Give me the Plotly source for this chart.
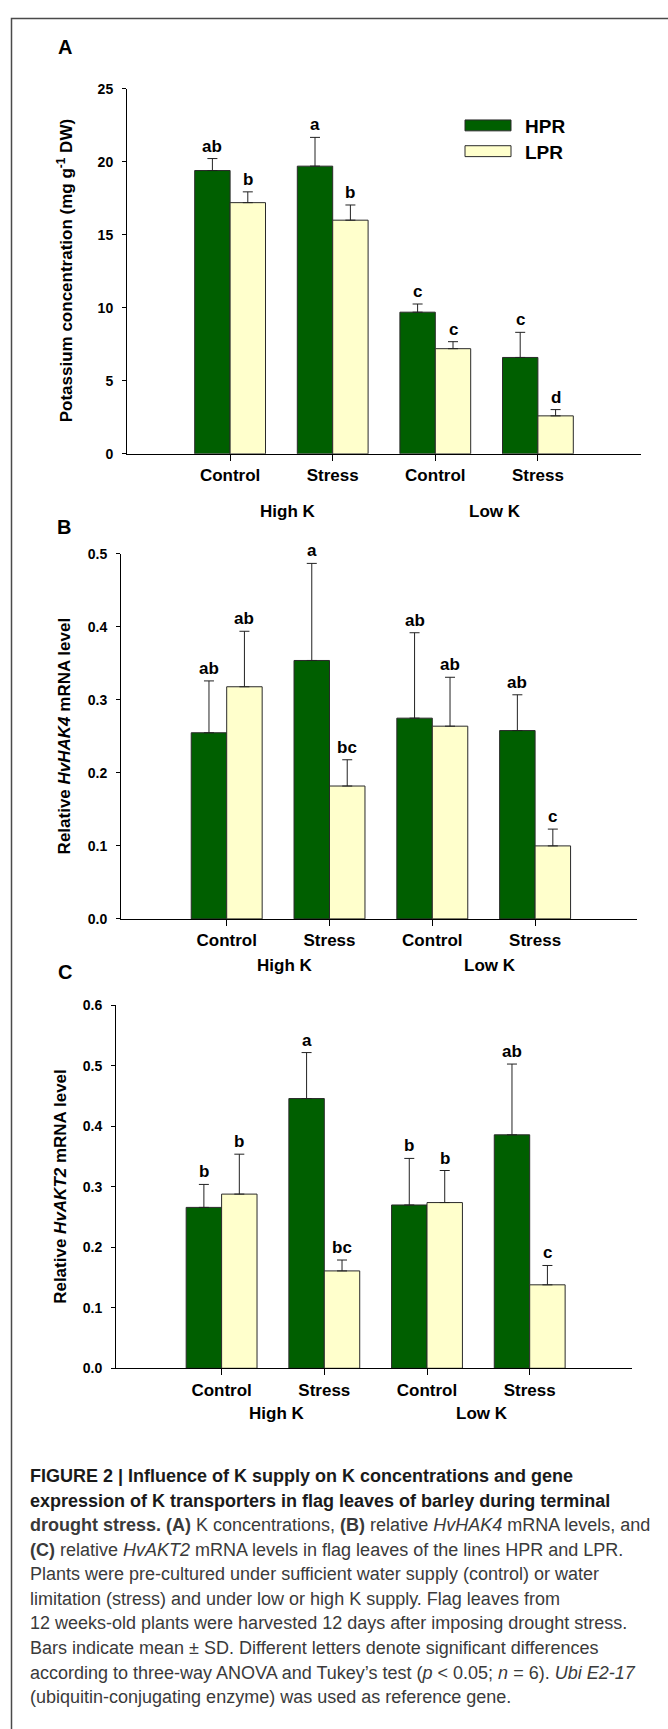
import plotly.graph_objects as go

# ---------------- data ----------------
categories = ["Control", "Stress", "Control", "Stress"]
k_groups = ["High K", "Low K"]
series_names = ["HPR", "LPR"]

# Panel A: potassium concentration (mg g-1 DW)
A_hpr = [19.4, 19.7, 9.7, 6.6]
A_hpr_sd = [0.82, 1.97, 0.56, 1.72]
A_lpr = [17.2, 16.0, 7.2, 2.6]
A_lpr_sd = [0.74, 1.04, 0.48, 0.43]
A_hpr_letters = ["ab", "a", "c", "c"]
A_lpr_letters = ["b", "b", "c", "d"]

# Panel B: relative HvHAK4 mRNA level
B_hpr = [0.255, 0.354, 0.275, 0.258]
B_hpr_sd = [0.071, 0.133, 0.117, 0.049]
B_lpr = [0.318, 0.182, 0.264, 0.100]
B_lpr_sd = [0.076, 0.036, 0.067, 0.023]
B_hpr_letters = ["ab", "a", "ab", "ab"]
B_lpr_letters = ["ab", "bc", "ab", "c"]

# Panel C: relative HvAKT2 mRNA level
C_hpr = [0.266, 0.446, 0.270, 0.386]
C_hpr_sd = [0.038, 0.076, 0.077, 0.117]
C_lpr = [0.288, 0.161, 0.274, 0.138]
C_lpr_sd = [0.066, 0.018, 0.053, 0.032]
C_hpr_letters = ["b", "a", "b", "ab"]
C_lpr_letters = ["b", "bc", "b", "c"]

y_titles = [
    "Potassium concentration (mg g<sup>-1</sup> DW)",
    "Relative <i>HvHAK4</i> mRNA level",
    "Relative <i>HvAKT2</i> mRNA level",
]
panel_letters = ["A", "B", "C"]

caption_lines = [
    "<b>FIGURE 2 | Influence of K supply on K concentrations and gene</b>",
    "<b>expression of K transporters in flag leaves of barley during terminal</b>",
    "<b>drought stress. (A)</b> K concentrations, <b>(B)</b> relative <i>HvHAK4</i> mRNA levels, and",
    "<b>(C)</b> relative <i>HvAKT2</i> mRNA levels in flag leaves of the lines HPR and LPR.",
    "Plants were pre-cultured under sufficient water supply (control) or water",
    "limitation (stress) and under low or high K supply. Flag leaves from",
    "12 weeks-old plants were harvested 12 days after imposing drought stress.",
    "Bars indicate mean \u00b1 SD. Different letters denote significant differences",
    "according to three-way ANOVA and Tukey\u2019s test (<i>p</i> &lt; 0.05; <i>n</i> = 6). <i>Ubi E2-17</i>",
    "(ubiquitin-conjugating enzyme) was used as reference gene.",
]

# ---------------- styling / layout ----------------
W, H = 668, 1729
FONT = "Liberation Sans, Arial, Helvetica, sans-serif"
GREEN = "#005f00"
YELLOW = "#ffffcc"
OUTLINE = "#2a2a2a"


def px(x):
    return x / W


def py(y):
    return 1 - y / H


panels = [
    dict(data=(A_hpr, A_hpr_sd, A_lpr, A_lpr_sd, A_hpr_letters, A_lpr_letters),
         xdom=(127, 641), ydom=(81.5, 450), c0=230.1, step=102.6,
         yr=[0, 25], dtick=5, fmt="d", label_xy=(65, 39.5), ytitle_x=65,
         kgrp_y=507.7, kgrp_x=(0.56, 2.58)),
    dict(data=(B_hpr, B_hpr_sd, B_lpr, B_lpr_sd, B_hpr_letters, B_lpr_letters),
         xdom=(121, 637), ydom=(551, 919.4), c0=226.7, step=102.8,
         yr=[0, 0.5], dtick=0.1, fmt=".1f", label_xy=(64, 523.6), ytitle_x=64,
         kgrp_y=966, kgrp_x=(0.56, 2.56)),
    dict(data=(C_hpr, C_hpr_sd, C_lpr, C_lpr_sd, C_hpr_letters, C_lpr_letters),
         xdom=(116, 632), ydom=(1006.7, 1373), c0=221.6, step=102.7,
         yr=[0, 0.6], dtick=0.1, fmt=".1f", label_xy=(65, 973), ytitle_x=61,
         kgrp_y=1418.3, kgrp_x=(0.53, 2.54)),
]

fig = go.Figure()
annotations = []
shapes = []
layout_axes = {}
xpos = list(range(len(categories)))
BAR_HALF = 0.69 / 4  # offset of each bar centre from the group centre

for i, p in enumerate(panels):
    hpr, hpr_sd, lpr, lpr_sd, hpr_let, lpr_let = p["data"]
    sfx = "" if i == 0 else str(i + 1)
    xa, ya = "x" + sfx, "y" + sfx
    for name, vals, sd, color in [("HPR", hpr, hpr_sd, GREEN), ("LPR", lpr, lpr_sd, YELLOW)]:
        fig.add_trace(go.Bar(
            x=xpos, y=vals, name=name, xaxis=xa, yaxis=ya, showlegend=False,
            marker=dict(color=color, line=dict(color=OUTLINE, width=1)),
            error_y=dict(type="data", symmetric=False, array=sd,
                         arrayminus=[0] * len(sd), color="#222222",
                         thickness=1, width=5),
            hoverinfo="skip",
        ))
    # significance letters
    for vals, sd, lets, off in [(hpr, hpr_sd, hpr_let, -BAR_HALF), (lpr, lpr_sd, lpr_let, BAR_HALF)]:
        for j, (v, s, t) in enumerate(zip(vals, sd, lets)):
            annotations.append(dict(
                x=j + off, y=v + s, xref=xa, yref=ya, text=t, showarrow=False,
                yanchor="bottom", xanchor="center", yshift=1,
                font=dict(family=FONT, size=17, color="#000", weight="bold")))
    x0 = (p["xdom"][0] - p["c0"]) / p["step"]
    x1 = (p["xdom"][1] - p["c0"]) / p["step"]
    layout_axes["xaxis" + sfx] = dict(
        domain=[px(p["xdom"][0]), px(p["xdom"][1])], range=[x0, x1],
        anchor=ya, tickmode="array", tickvals=xpos, ticktext=categories,
        ticks="outside", ticklen=6, tickwidth=1, tickcolor="#000",
        showline=True, linecolor="#000", linewidth=1, showgrid=False,
        zeroline=False, fixedrange=True,
        tickfont=dict(family=FONT, size=17, color="#000", weight="bold"))
    layout_axes["yaxis" + sfx] = dict(
        domain=[py(p["ydom"][1]), py(p["ydom"][0])], range=p["yr"],
        anchor=xa, tickmode="linear", tick0=0, dtick=p["dtick"],
        tickformat=p["fmt"], ticks="outside", ticklen=4, tickwidth=1,
        tickcolor="#000", showline=True, linecolor="#000", linewidth=1,
        showgrid=False, zeroline=False, fixedrange=True, ticklabelstandoff=6,
        tickfont=dict(family=FONT, size=14, color="#000", weight="bold"))
    # y title
    annotations.append(dict(
        x=px(p["ytitle_x"]), y=py((p["ydom"][0] + p["ydom"][1]) / 2),
        xref="paper", yref="paper", text=y_titles[i], textangle=-90,
        showarrow=False, xanchor="center", yanchor="middle",
        font=dict(family=FONT, size=17, color="#000", weight="bold")))
    # panel letter
    annotations.append(dict(
        x=px(p["label_xy"][0]), y=py(p["label_xy"][1]), xref="paper", yref="paper",
        text=panel_letters[i], showarrow=False, xanchor="center", yanchor="middle",
        font=dict(family=FONT, size=20, color="#000", weight="bold")))
    # High K / Low K group labels
    for g, gx in zip(k_groups, p["kgrp_x"]):
        annotations.append(dict(
            x=gx, y=py(p["kgrp_y"]), xref=xa, yref="paper", text=g,
            showarrow=False, xanchor="center", yanchor="middle",
            font=dict(family=FONT, size=17, color="#000", weight="bold")))

# legend drawn manually in panel A
for name, color, yc in [("HPR", GREEN, 118.5), ("LPR", YELLOW, 144.5)]:
    shapes.append(dict(type="rect", xref="paper", yref="paper",
                       x0=px(465), x1=px(511), y0=py(yc + 5.5), y1=py(yc - 5.5),
                       fillcolor=color, line=dict(color=OUTLINE, width=1)))
    annotations.append(dict(x=px(523), y=py(yc + 1), xref="paper", yref="paper",
                            text=name, showarrow=False, xanchor="left", yanchor="middle",
                            font=dict(family=FONT, size=19, color="#000", weight="bold")))

# outer frame (open to the right and bottom)
shapes.append(dict(type="rect", xref="paper", yref="paper",
                   x0=px(11.5), x1=1.05, y0=-0.05, y1=py(10.5),
                   line=dict(color="#4a4a4a", width=1.5), fillcolor="rgba(0,0,0,0)"))

# caption
for k, line in enumerate(caption_lines):
    annotations.append(dict(
        x=px(27.5), y=py(1481.7 + 24.8 * k), xref="paper", yref="paper",
        text=line, showarrow=False, xanchor="left", yanchor="middle", align="left",
        font=dict(family=FONT, size=18, color="#1a1a1a" if k < 2 else "#3a3a3a")))

fig.update_layout(
    width=W, height=H, margin=dict(l=0, r=0, t=0, b=0, pad=0),
    paper_bgcolor="white", plot_bgcolor="white",
    barmode="group", bargap=0.31, bargroupgap=0,
    annotations=annotations, shapes=shapes, showlegend=False,
    font=dict(family=FONT, color="#000"),
    **layout_axes,
)

fig.write_html("out.html", config={"displayModeBar": False})
